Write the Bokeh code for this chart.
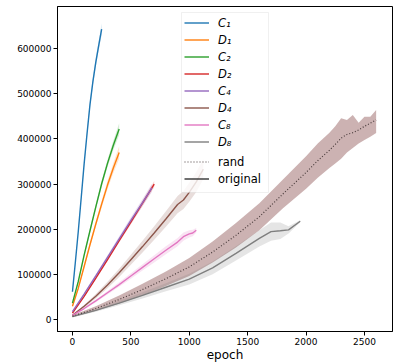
from bokeh.plotting import figure
from bokeh.models import (Legend, LegendItem, FixedTicker, PrintfTickFormatter,
                          Range1d, Label, BoxAnnotation)
from bokeh.embed import file_html
from bokeh.resources import INLINE

# ---------------- data ----------------
x_ticks = [0, 500, 1000, 1500, 2000, 2500]
y_ticks = [0, 100000, 200000, 300000, 400000, 500000, 600000]

C1_epoch = [0, 25, 50, 75, 100, 125, 150, 175, 200, 225, 250]
C1_val = [62000, 128000, 196000, 270000, 345000, 412000, 476000, 527000, 570000, 607000, 643000]
C1_spread = [2000, 3000, 4000, 5000, 6000, 7000, 8000, 9000, 10000, 11000, 13000]

D1_epoch = [0, 50, 100, 150, 200, 250, 300, 350, 400]
D1_val = [30000, 70000, 118000, 166000, 212000, 256000, 298000, 336000, 370000]
D1_spread = [2000, 3000, 4000, 5000, 6000, 8000, 9000, 11000, 14000]

C2_epoch = [0, 50, 100, 150, 200, 250, 300, 350, 400]
C2_val = [37000, 85000, 143000, 197000, 250000, 301000, 346000, 386000, 422000]
C2_spread = [2000, 3000, 4000, 5000, 6000, 7000, 8000, 10000, 13000]

D2_epoch = [0, 100, 200, 300, 400, 500, 600, 700]
D2_val = [15000, 52000, 92000, 133000, 175000, 216000, 258000, 300000]
D2_spread = [1500, 2000, 3000, 3500, 4000, 5000, 6000, 7000]

C4_epoch = [0, 100, 200, 300, 400, 500, 600, 680]
C4_val = [18000, 57000, 97000, 138000, 179000, 220000, 259000, 292000]
C4_spread = [2000, 3000, 4000, 5000, 6000, 7000, 8000, 9000]

D4_epoch = [0, 100, 200, 300, 400, 500, 600, 700, 800, 900, 950, 1000, 1060, 1120]
D4_val = [10000, 30000, 52000, 77000, 104000, 133000, 162000, 192000, 223000, 255000, 265000, 282000, 305000, 333000]
D4_spread = [2000, 3000, 5000, 7000, 9000, 11000, 13000, 15000, 17000, 19000, 20000, 21000, 22000, 22000]

C8_epoch = [0, 100, 200, 300, 400, 500, 600, 700, 800, 900, 950, 1000, 1030, 1060]
C8_val = [10000, 25000, 42000, 60000, 78000, 97000, 116000, 135000, 154000, 172000, 184000, 190000, 192000, 198000]
C8_spread = [1500, 2000, 3000, 4000, 5000, 6000, 7000, 8000, 9000, 9000, 9000, 8000, 7000, 5000]

D8_epoch = [0, 200, 400, 600, 800, 1000, 1200, 1400, 1600, 1700, 1780, 1850, 1950]
D8_val = [7000, 21000, 37000, 54000, 72000, 90000, 115000, 147000, 180000, 195000, 197000, 199000, 218000]
D8_spread = [2000, 3000, 5000, 7000, 9000, 12000, 14000, 16000, 18000, 20000, 18000, 8000, 2000]

rand_epoch = [0, 200, 400, 600, 800, 1000, 1200, 1400, 1600, 1800, 2000, 2100, 2200, 2250,
              2300, 2350, 2400, 2450, 2500, 2550, 2600]
rand_val = [8000, 25000, 45000, 67000, 91000, 117000, 150000, 187000, 228000, 278000, 326000,
            352000, 375000, 388000, 402000, 410000, 414000, 420000, 428000, 435000, 442000]
rand_hi = [10000, 30000, 54000, 80000, 107000, 137000, 173000, 214000, 258000, 310000, 362000,
           390000, 414000, 428000, 446000, 442000, 453000, 436000, 449000, 449000, 464000]
rand_lo = [6000, 20000, 36000, 54000, 75000, 97000, 127000, 160000, 198000, 246000, 290000,
           314000, 336000, 346000, 356000, 370000, 380000, 390000, 398000, 405000, 413000]

labels = ["C\u2081", "D\u2081", "C\u2082", "D\u2082", "C\u2084", "D\u2084", "C\u2088", "D\u2088"]
colors = ["#1f77b4", "#ff7f0e", "#2ca02c", "#d62728", "#9467bd", "#8c564b", "#e377c2", "#7f7f7f"]

series = [
    (C1_epoch, C1_val, C1_spread),
    (D1_epoch, D1_val, D1_spread),
    (C2_epoch, C2_val, C2_spread),
    (D2_epoch, D2_val, D2_spread),
    (C4_epoch, C4_val, C4_spread),
    (D4_epoch, D4_val, D4_spread),
    (C8_epoch, C8_val, C8_spread),
    (D8_epoch, D8_val, D8_spread),
]

# ---------------- figure ----------------
p = figure(width=398, height=364, output_backend="svg", toolbar_location=None,
           x_range=Range1d(-128, 2740), y_range=Range1d(-25800, 693000),
           min_border_left=57, min_border_right=6, min_border_top=6, min_border_bottom=32)

p.xgrid.visible = False
p.ygrid.visible = False
p.outline_line_color = "black"
p.outline_line_width = 1
p.background_fill_color = "white"
p.border_fill_color = "white"

# bands
p.varea(x=rand_epoch, y1=rand_lo, y2=rand_hi, fill_color="#b89494", fill_alpha=0.72)
for (ep, v, s), col in zip(series, colors):
    lo = [a - b for a, b in zip(v, s)]
    hi = [a + b for a, b in zip(v, s)]
    p.varea(x=ep, y1=lo, y2=hi, fill_color=col, fill_alpha=0.2)

# lines
items_a = []
for (ep, v, s), col, lab in zip(series, colors, labels):
    r = p.line(ep, v, line_color=col, line_width=1.4)
    items_a.append(LegendItem(label=lab, renderers=[r]))

r_rand = p.line(rand_epoch, rand_val, line_color="#4a3c3c", line_width=1.2, line_dash="1 2")
# "original" style key: a single-point solid line (draws nothing in the plot area)
r_orig = p.line(rand_epoch[:1], rand_val[:1], line_color="#333333", line_width=1.4)
items_b = [LegendItem(label="rand", renderers=[r_rand]),
           LegendItem(label="original", renderers=[r_orig])]

# legend frame (frame-relative screen units, y from bottom)
box = BoxAnnotation(left=124, right=211, bottom=139, top=319,
                    left_units="screen", right_units="screen",
                    bottom_units="screen", top_units="screen",
                    fill_color="white", fill_alpha=0.8,
                    line_color="#cccccc", line_width=1)
p.add_layout(box)

common = dict(orientation="vertical", label_text_font="DejaVu Sans",
              label_text_font_size="11.5px", label_text_color="black",
              label_height=17, glyph_height=17, glyph_width=25, label_standoff=9,
              spacing=0, padding=0, margin=0,
              border_line_color=None, background_fill_alpha=0.0)

legend_a = Legend(items=items_a, location=(127, 181), label_text_font_style="italic", **common)
legend_b = Legend(items=items_b, location=(127, 144), label_text_font_style="normal", **common)
p.add_layout(legend_a)
p.add_layout(legend_b)

# axes
for ax in (p.xaxis[0], p.yaxis[0]):
    ax.axis_line_color = "black"
    ax.major_tick_line_color = "black"
    ax.major_tick_out = 4
    ax.major_tick_in = 0
    ax.minor_tick_line_color = None
    ax.major_label_text_font = "DejaVu Sans"
    ax.major_label_text_font_size = "9px"
    ax.major_label_text_color = "black"
    ax.major_label_standoff = 2
    ax.formatter = PrintfTickFormatter(format="%d")

p.xaxis.ticker = FixedTicker(ticks=x_ticks)
p.yaxis.ticker = FixedTicker(ticks=y_ticks)
p.xaxis.axis_label = "epoch"
p.xaxis.axis_label_text_font = "DejaVu Sans"
p.xaxis.axis_label_text_font_size = "12px"
p.xaxis.axis_label_text_font_style = "normal"
p.xaxis.axis_label_text_color = "black"
p.xaxis.axis_label_standoff = 0

ylab = Label(x=-46.5, y=163, x_units="screen", y_units="screen", text="B", angle=90,
             angle_units="deg", text_align="center", text_baseline="middle",
             text_font="DejaVu Sans", text_font_size="12px", text_color="black")
p.add_layout(ylab)

open("out.html", "w").write(file_html(p, INLINE))
